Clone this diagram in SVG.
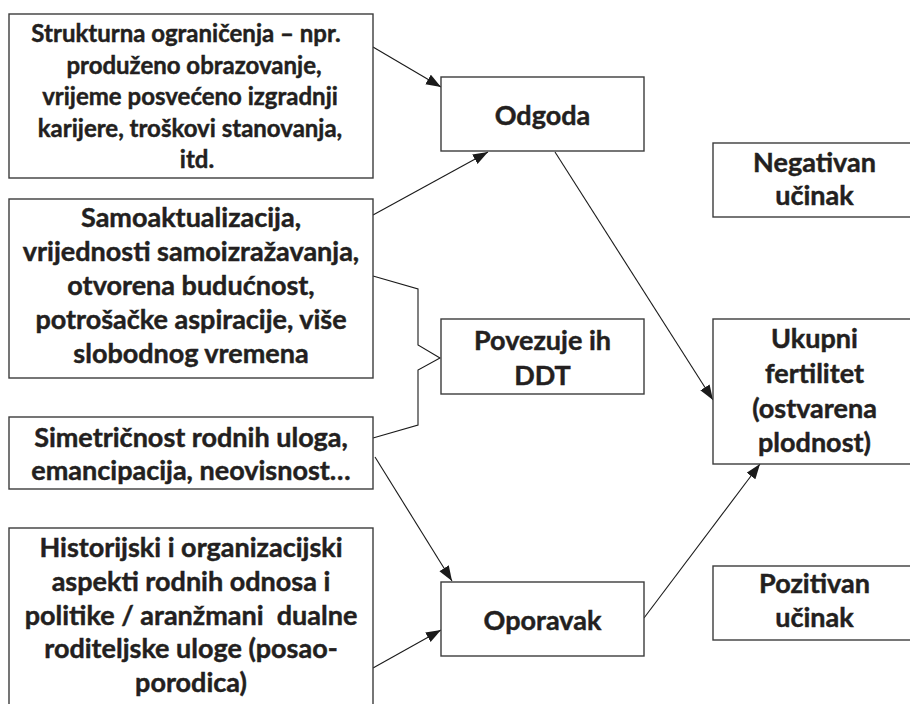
<svg xmlns="http://www.w3.org/2000/svg" width="910" height="704" viewBox="0 0 910 704">
<style>
.box{fill:#fff;stroke:#3c3c3c;stroke-width:1.4}
.t{font-family:Lato,"Liberation Sans",sans-serif;font-weight:bold;fill:#231f20;stroke:#231f20;stroke-width:0.45;text-anchor:middle}
.s{font-size:24px}
.m{font-size:27px}
.c{fill:none;stroke:#1a1a1a;stroke-width:1.1}
</style>
<defs>
<marker id="ah" markerUnits="userSpaceOnUse" markerWidth="16" markerHeight="12" refX="15" refY="5.5" orient="auto">
<path d="M0,0 L15,5.5 L0,11 z" fill="#1a1a1a"/>
</marker>
</defs>
<rect width="910" height="704" fill="#fff"/>
<g id="connectors">
<line class="c" x1="373" y1="47" x2="441" y2="87" marker-end="url(#ah)"/>
<line class="c" x1="373" y1="215" x2="488" y2="152" marker-end="url(#ah)"/>
<polyline class="c" points="373,276 418,289 418,345 440,358 418,370 418,425 373,438"/>
<line class="c" x1="555" y1="152" x2="713" y2="400" marker-end="url(#ah)"/>
<line class="c" x1="375" y1="457" x2="452" y2="581" marker-end="url(#ah)"/>
<line class="c" x1="373" y1="668" x2="441" y2="630" marker-end="url(#ah)"/>
<line class="c" x1="644" y1="618" x2="760" y2="464" marker-end="url(#ah)"/>
</g>
<g id="strukturna">
<rect class="box" x="9" y="14" width="364" height="164"/>
<text class="t s" x="186" y="42">Strukturna ograničenja – npr.</text>
<text class="t s" x="194" y="73.5">produženo obrazovanje,</text>
<text class="t s" x="190" y="105">vrijeme posvećeno izgradnji</text>
<text class="t s" x="190" y="136.5">karijere, troškovi stanovanja,</text>
<text class="t s" x="197" y="168">itd.</text>
</g>
<g id="samoaktualizacija">
<rect class="box" x="9" y="199" width="364" height="179"/>
<text class="t m" x="191" y="227">Samoaktualizacija,</text>
<text class="t m" x="191" y="261">vrijednosti samoizražavanja,</text>
<text class="t m" x="191" y="295">otvorena budućnost,</text>
<text class="t m" x="191" y="329">potrošačke aspiracije, više</text>
<text class="t m" x="191" y="363">slobodnog vremena</text>
</g>
<g id="simetricnost">
<rect class="box" x="9" y="417" width="364" height="72"/>
<text class="t m" x="191" y="447">Simetričnost rodnih uloga,</text>
<text class="t m" x="191" y="480">emancipacija, neovisnost…</text>
</g>
<g id="historijski">
<rect class="box" x="9" y="528" width="364" height="180"/>
<text class="t m" x="191" y="557">Historijski i organizacijski</text>
<text class="t m" x="191" y="591">aspekti rodnih odnosa i</text>
<text class="t m" x="191" y="625">politike / aranžmani&#160; dualne</text>
<text class="t m" x="191" y="658">roditeljske uloge (posao-</text>
<text class="t m" x="191" y="692">porodica)</text>
</g>
<g id="odgoda">
<rect class="box" x="441" y="77" width="203" height="74"/>
<text class="t m" x="542.5" y="125">Odgoda</text>
</g>
<g id="povezuje">
<rect class="box" x="441" y="319" width="203" height="75"/>
<text class="t m" x="542.5" y="350">Povezuje ih</text>
<text class="t m" x="542.5" y="385">DDT</text>
</g>
<g id="oporavak">
<rect class="box" x="441" y="582" width="203" height="74"/>
<text class="t m" x="542.5" y="630">Oporavak</text>
</g>
<g id="negativan">
<rect class="box" x="713" y="143" width="203" height="74"/>
<text class="t m" x="814.5" y="172">Negativan</text>
<text class="t m" x="814.5" y="205">učinak</text>
</g>
<g id="ukupni">
<rect class="box" x="713" y="319" width="203" height="145"/>
<text class="t m" x="814.5" y="348">Ukupni</text>
<text class="t m" x="814.5" y="383">fertilitet</text>
<text class="t m" x="814.5" y="418">(ostvarena</text>
<text class="t m" x="814.5" y="452">plodnost)</text>
</g>
<g id="pozitivan">
<rect class="box" x="713" y="566" width="203" height="74"/>
<text class="t m" x="814.5" y="593">Pozitivan</text>
<text class="t m" x="814.5" y="627">učinak</text>
</g>
</svg>
